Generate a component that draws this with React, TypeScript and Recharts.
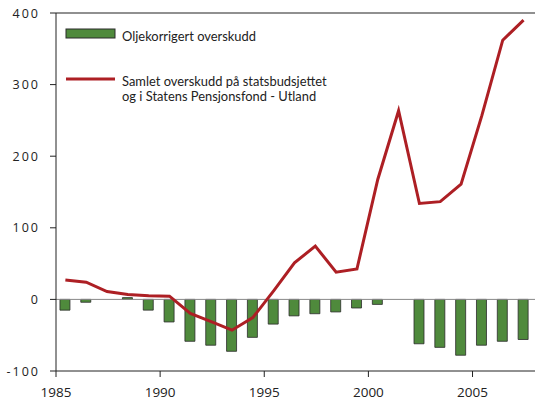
import React from "react";
import {
  ComposedChart,
  Bar,
  Line,
  XAxis,
  YAxis,
  ReferenceLine,
} from "recharts";

const years = [
  1985, 1986, 1987, 1988, 1989, 1990, 1991, 1992, 1993, 1994, 1995, 1996,
  1997, 1998, 1999, 2000, 2001, 2002, 2003, 2004, 2005, 2006, 2007,
];
const oilAdjustedSurplus = [
  -15, -4, 0, 2.5, -15, -31.5, -58.5, -64, -72.5, -53, -34.5, -23, -20, -17.5,
  -12, -7, null, -62, -67, -78, -64, -58.5, -56,
];
const totalSurplus = [
  27, 24, 11, 7, 5, 4.5, -19.5, -31, -43, -25.5, 12, 51, 74.5, 38, 42.5, 167.5,
  263.5, 134, 136.5, 161, 257, 362, 390,
];
const xTicks = [1985, 1990, 1995, 2000, 2005];
const yTicks = [-100, 0, 100, 200, 300, 400];
const barLabel = "Oljekorrigert overskudd";
const lineLabel1 = "Samlet overskudd på statsbudsjettet";
const lineLabel2 = "og i Statens Pensjonsfond - Utland";

const data = years.map((y, i) => ({
  x: y + 0.45,
  bar: oilAdjustedSurplus[i],
  line: totalSurplus[i],
}));

const FONT = "'Open Sans', sans-serif";
const LEGEND_FONT = "Lato, sans-serif";
const GREEN = "#4f8a3c";
const RED = "#ad1f24";

const LegendOverlay = () => (
  <svg
    width={535}
    height={120}
    style={{ position: "absolute", left: 0, top: 0, pointerEvents: "none" }}
  >
    <rect x={66} y={29} width={49} height={9} fill={GREEN} stroke="#2b2b2b" strokeWidth={1} />
    <text x={122} y={40.5} fontSize={12.9} fontFamily={LEGEND_FONT} fill="#222">
      {barLabel}
    </text>
    <line x1={66} x2={115} y1={79} y2={79} stroke={RED} strokeWidth={3} />
    <text x={122} y={85.5} fontSize={12.9} fontFamily={LEGEND_FONT} fill="#222">
      {lineLabel1}
    </text>
    <text x={122} y={101} fontSize={12.9} fontFamily={LEGEND_FONT} fill="#222">
      {lineLabel2}
    </text>
  </svg>
);

const YTick = (props: any) => {
  const { x, y, payload } = props;
  return (
    <text
      x={x}
      y={y}
      dy={4.5}
      textAnchor="end"
      fontSize={12.5}
      fontFamily={FONT}
      fill="#222"
      letterSpacing={2}
    >
      {payload.value}
    </text>
  );
};

export default function App() {
  return (
    <div style={{ position: "absolute", left: 0, top: 0, width: 535, height: 402 }}>
      <ComposedChart
        width={535}
        height={402}
        data={data}
        margin={{ top: 13, right: 0, left: 0, bottom: 0 }}
      >
        <XAxis
          dataKey="x"
          type="number"
          domain={[1985, 2008]}
          ticks={xTicks}
          allowDataOverflow
          height={31}
          tickSize={6}
          tickMargin={10}
          stroke="#222"
          tick={{ fontSize: 13.5, fontFamily: FONT, fill: "#222" }}
        />
        <YAxis
          type="number"
          domain={[-100, 400]}
          ticks={yTicks}
          width={56}
          tickSize={6}
          tickMargin={10}
          stroke="#222"
          tick={<YTick />}
        />
        <ReferenceLine y={0} stroke="#888" strokeWidth={1} />
        <ReferenceLine y={400} stroke="#222" strokeWidth={1.2} />
        <Bar
          dataKey="bar"
          barSize={10}
          fill={GREEN}
          stroke="#2b2b2b"
          strokeWidth={0.8}
          isAnimationActive={false}
        />
        <Line
          dataKey="line"
          stroke={RED}
          strokeWidth={3}
          dot={false}
          activeDot={false}
          isAnimationActive={false}
        />
      </ComposedChart>
      <LegendOverlay />
    </div>
  );
}
